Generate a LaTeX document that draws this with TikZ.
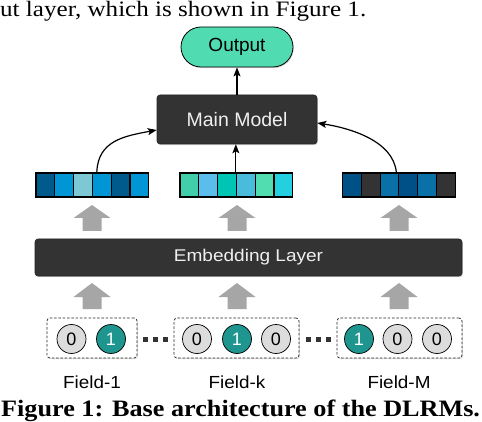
\documentclass[tikz,border=0pt]{standalone}
\usepackage{fontspec}
\usepackage{graphicx}
\newfontfamily\libser{Liberation Serif}
\setsansfont{Liberation Sans}
\usetikzlibrary{arrows.meta,shadows,calc}
\definecolor{boxdark}{HTML}{333333}
\definecolor{outmint}{HTML}{50DCB0}
\definecolor{bitgray}{HTML}{DCDCDC}
\definecolor{bitteal}{HTML}{1E958E}
\definecolor{arrgray}{HTML}{A6A6A6}
\definecolor{cA}{HTML}{005A8C}
\definecolor{cB}{HTML}{0096D6}
\definecolor{cC}{HTML}{7EC8D4}
\definecolor{mA}{HTML}{40CFA8}
\definecolor{mB}{HTML}{5BBDEB}
\definecolor{mC}{HTML}{00C4B4}
\definecolor{mD}{HTML}{48BCDA}
\definecolor{mE}{HTML}{52DDB0}
\definecolor{mF}{HTML}{22D0E0}
\definecolor{rA}{HTML}{005088}
\definecolor{rB}{HTML}{0A70A8}
\begin{document}
\begin{tikzpicture}[x=1pt,y=-1pt,
  sh/.style={drop shadow={opacity=0.3, shadow xshift=0.8pt, shadow yshift=-1.2pt}},
  darkbox/.style={sh, fill=boxdark, draw=black!85, line width=0.6pt, rounded corners=3pt, text=white!94!black, inner sep=0pt},
  cell/.style={draw=black, line width=1.1pt, minimum width=18.8pt, minimum height=24pt, inner sep=0pt},
  bit/.style={circle, draw=black, line width=0.7pt, minimum size=29pt, inner sep=0pt, font=\sffamily\fontsize{18}{18}\selectfont},
  bit0/.style={bit, fill=bitgray, text=black},
  bit1/.style={bit, fill=bitteal, text=white},
  fieldbox/.style={sh, draw=black!85, fill=white, dashed, dash pattern=on 2.5pt off 1.8pt, line width=0.7pt, rounded corners=3pt, minimum height=40pt, inner sep=0pt},
  dotsq/.style={fill=boxdark, minimum size=5pt, inner sep=0pt},
  flabel/.style={font=\sffamily\fontsize{17.5}{17.5}\selectfont, inner sep=0pt, anchor=base},
  conn/.style={line width=1.2pt, -{Stealth[length=9pt, width=7pt, inset=2pt]}},
  bigarrow/.style={fill=arrgray}
]
\useasboundingbox (0,0) rectangle (482,422);
\fill[white] (0,0) rectangle (482,422);

% surrounding text
\node[anchor=base west, inner sep=0pt, font=\libser\fontsize{22}{22}\selectfont] (toptext) at (0,17) {\scalebox{1.14}[1]{ut layer, which is shown in Figure 1.}};
\node[anchor=base west, inner sep=0pt, font=\libser\bfseries\fontsize{23.5}{23.5}\selectfont] (caption) at (1,416) {\scalebox{1.115}[1]{Figure 1: Base architecture of the DLRMs.}};

% output and main model
\node[sh, draw=black, line width=0.8pt, fill=outmint, rounded corners=20pt, minimum width=112pt, minimum height=40pt, inner sep=0pt, font=\sffamily\fontsize{19}{19}\selectfont] (out) at (237,47) {Output};
\node[darkbox, minimum width=160pt, minimum height=49pt, font=\sffamily\fontsize{19.5}{19.5}\selectfont] (mm) at (237,119.5) {Main Model};

% embedding vectors
\foreach \c [count=\i] in {cA,cB,cC,cB,cA,cB} {
  \node[cell, fill=\c] (va\i) at ({36+18.8*(\i-0.5)},185) {};
}
\foreach \c [count=\i] in {mA,mB,mC,mD,mE,mF} {
  \node[cell, fill=\c] (vb\i) at ({180+18.8*(\i-0.5)},185) {};
}
\foreach \c [count=\i] in {rA,boxdark,rB,rA,rB,boxdark} {
  \node[cell, fill=\c] (vc\i) at ({342.5+18.8*(\i-0.5)},185) {};
}

% connectors to main model
\draw[conn] (out.south |- mm.north) -- (out.south);
\draw[conn] (vb4.north west) -- (vb4.north west |- mm.south);
\draw[conn] ([xshift=-5pt]va4.north) .. controls +(1,-32) and +(-32,6) .. ([yshift=-10.5pt]mm.west);
\draw[conn] ([xshift=-2pt]vc4.north west) .. controls +(-3,-32) and +(32,5) .. ([yshift=-3.5pt]mm.east);

% embedding layer
\node[darkbox, minimum width=427pt, minimum height=37pt, font=\sffamily\fontsize{17}{17}\selectfont] (emb) at (248.5,257.5) {\scalebox{1.12}[1]{Embedding Layer}};

% gray block arrows
\foreach \x in {92,237,399} {
  \fill[bigarrow] (\x,205) -- (\x+18.5,218) -- (\x+9.5,218) -- (\x+9.5,231) -- (\x-9.5,231) -- (\x-9.5,218) -- (\x-18.5,218) -- cycle;
  \fill[bigarrow] (\x,283) -- (\x+18.5,297) -- (\x+9.5,297) -- (\x+9.5,309) -- (\x-9.5,309) -- (\x-9.5,297) -- (\x-18.5,297) -- cycle;
}

% field boxes
\node[fieldbox, minimum width=90pt] (f1) at (92,338) {};
\node[fieldbox, minimum width=125pt] (f2) at (236.5,338) {};
\node[fieldbox, minimum width=125pt] (f3) at (399.5,338) {};

\node[bit0] (b11) at (71.5,339) {0};
\node[bit1] (b12) at (111,339) {1};
\node[bit0] (b21) at (197,339) {0};
\node[bit1] (b22) at (237,339) {1};
\node[bit0] (b23) at (276,339) {0};
\node[bit1] (b31) at (359,339) {1};
\node[bit0] (b32) at (397.5,339) {0};
\node[bit0] (b33) at (437,339) {0};

\node[dotsq] (d1) at (145.5,339) {};
\node[dotsq] (d2) at (155.5,339) {};
\node[dotsq] (d3) at (165.5,339) {};
\node[dotsq] (d4) at (308,339) {};
\node[dotsq] (d5) at (318,339) {};
\node[dotsq] (d6) at (328,339) {};

\node[flabel] (l1) at (92,388) {\scalebox{1.08}[1]{Field-1}};
\node[flabel] (l2) at (237,388) {\scalebox{1.08}[1]{Field-k}};
\node[flabel] (l3) at (399,388) {\scalebox{1.08}[1]{Field-M}};
\end{tikzpicture}
\end{document}
